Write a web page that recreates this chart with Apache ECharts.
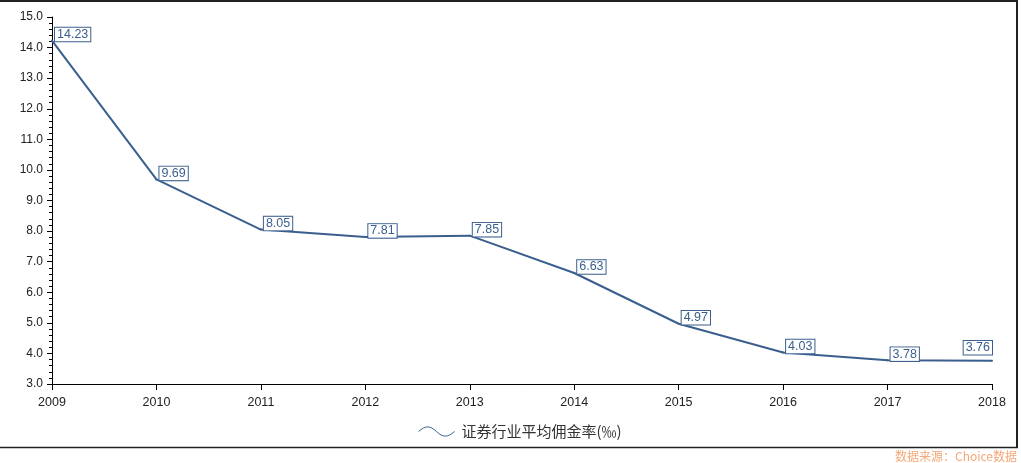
<!DOCTYPE html>
<html>
<head>
<meta charset="utf-8">
<script src="https://cdn.jsdelivr.net/npm/echarts@6/dist/echarts.min.js"></script>
<style>html,body{margin:0;padding:0;background:#fff;}#c{width:1021px;height:463px;}</style>
</head>
<body>
<div id="c"></div>
<script>
const years = ['2009','2010','2011','2012','2013','2014','2015','2016','2017','2018'];
const rates = [14.23, 9.69, 8.05, 7.81, 7.85, 6.63, 4.97, 4.03, 3.78, 3.76];
const seriesName = '证券行业平均佣金率(‰)';
const sourceText = '数据来源：Choice数据';

const lineColor = '#3a5f8e';
const font = '"Liberation Sans", Arial, "Noto Sans CJK SC", sans-serif';

const chart = echarts.init(document.getElementById('c'));
const dataItems = rates.map((v, i) => {
  if (i === rates.length - 1) {
    return { value: v, label: { position: 'left', distance: -1, offset: [0, -13] } };
  }
  return v;
});
chart.setOption({
  animation: false,
  backgroundColor: '#fff',
  textStyle: { fontFamily: font },
  grid: { left: 52, right: 29, top: 17, bottom: 79 },
  legend: {
    data: [{ name: seriesName, icon: 'path://M0,5 C7,-1 11,-1 17.5,5 C24,11 28,11 35,5' }],
    left: 411,
    top: 419,
    itemWidth: 36,
    itemHeight: 12,
    itemGap: 10,
    itemStyle: { color: 'none', borderColor: lineColor, borderWidth: 1 },
    textStyle: { color: '#333', fontSize: 15, padding: [0, 0, 0, 2], fontFamily: '"Noto Sans CJK SC", sans-serif' }
  },
  xAxis: {
    type: 'category',
    data: years,
    boundaryGap: false,
    axisLine: { lineStyle: { color: '#000', width: 1 } },
    axisTick: { show: true, length: 6, alignWithLabel: true, lineStyle: { color: '#000' } },
    axisLabel: { color: '#222', fontSize: 12.5, margin: 12 }
  },
  yAxis: {
    type: 'value',
    min: 3, max: 15, interval: 1,
    axisLine: { show: true, lineStyle: { color: '#000', width: 1 } },
    axisTick: { show: true, length: 5, lineStyle: { color: '#000' } },
    minorTick: { show: true, splitNumber: 5, length: 3, lineStyle: { color: '#000' } },
    splitLine: { show: false },
    axisLabel: { color: '#222', fontSize: 12, margin: 9, formatter: v => v.toFixed(1) }
  },
  series: [{
    name: seriesName,
    type: 'line',
    data: dataItems,
    symbol: 'circle',
    symbolSize: 2,
    itemStyle: { color: lineColor },
    lineStyle: { color: lineColor, width: 2 },
    label: {
      show: true,
      position: 'right',
      distance: 2,
      offset: [0, -6],
      color: lineColor,
      fontSize: 12.5,
      backgroundColor: '#fff',
      borderColor: lineColor,
      borderWidth: 1,
      padding: [1, 2, 0, 2],
      formatter: p => p.value.toFixed(2)
    }
  }],
  graphic: [
    { type: 'line', shape: { x1: 0, y1: 1, x2: 1018, y2: 1 }, style: { stroke: '#222', lineWidth: 2 } },
    { type: 'line', shape: { x1: 1017, y1: 0, x2: 1017, y2: 448 }, style: { stroke: '#222', lineWidth: 2 } },
    { type: 'line', shape: { x1: 0, y1: 447.5, x2: 1018, y2: 447.5 }, style: { stroke: '#222', lineWidth: 1.5 } },
    { type: 'text', right: 4, top: 450, style: { text: sourceText, fill: '#f4a877', fontSize: 12, fontFamily: '"Noto Sans CJK SC", sans-serif' } }
  ]
});
</script>
</body>
</html>
